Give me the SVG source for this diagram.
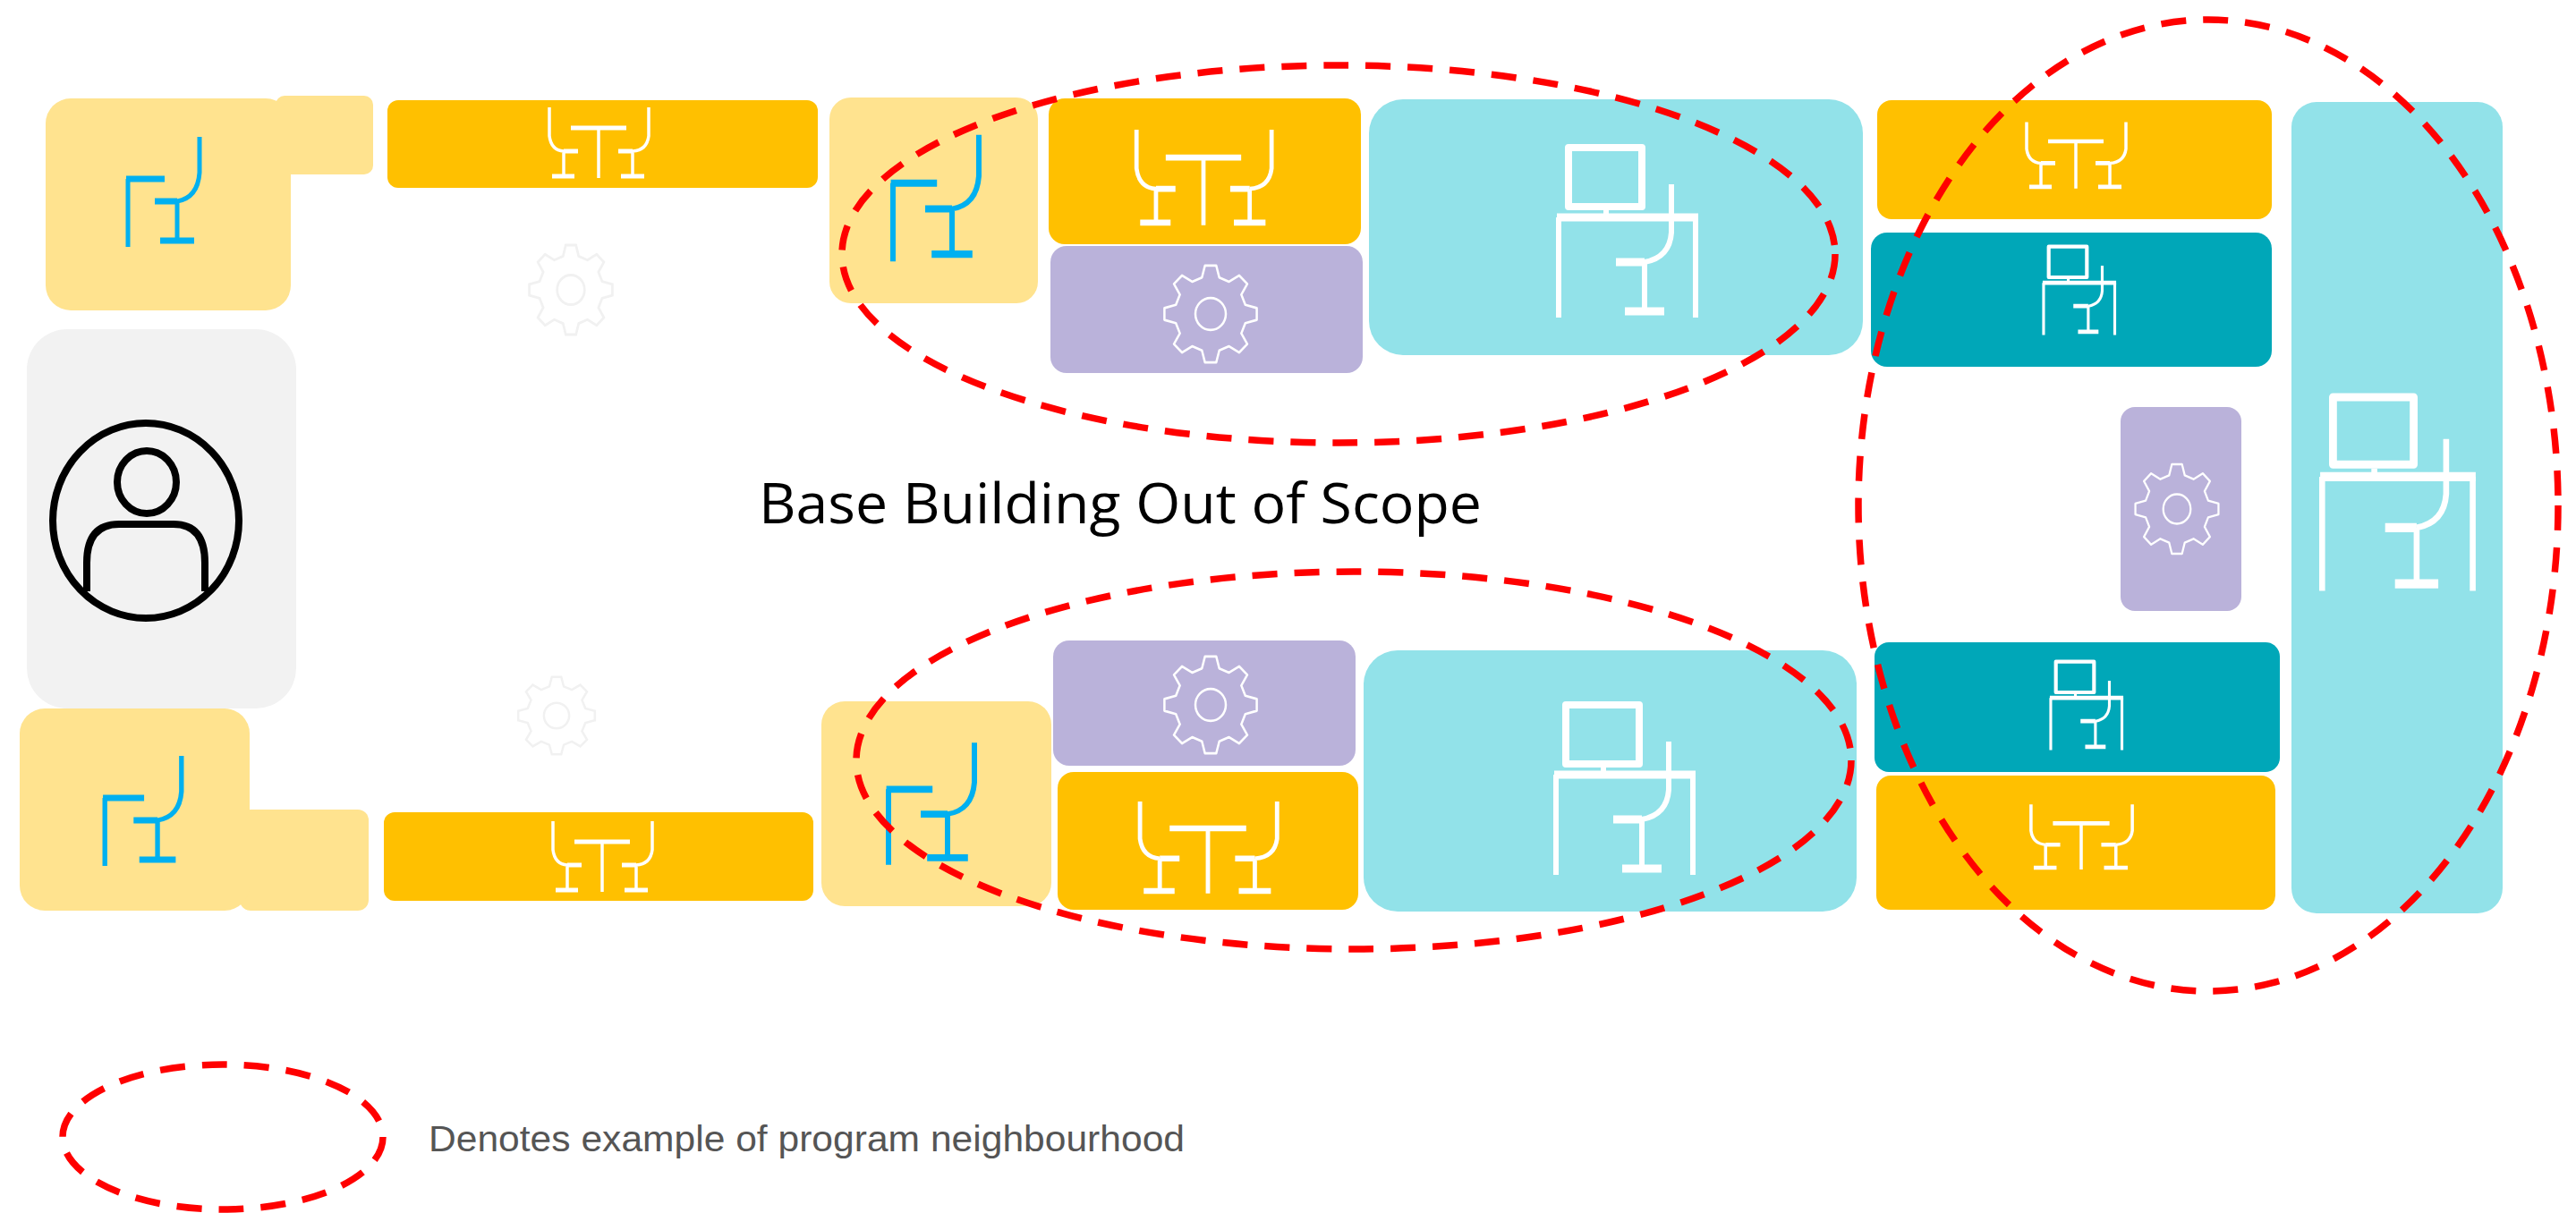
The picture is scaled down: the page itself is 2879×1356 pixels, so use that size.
<svg xmlns="http://www.w3.org/2000/svg" width="2879" height="1356" viewBox="0 0 2879 1356">
<style>
.y{fill:#FFE38F}.o{fill:#FFC000}.c{fill:#92E2E9}.t{fill:#00A7B8}.p{fill:#BAB2DA}.g{fill:#F2F2F2}
.w{fill:none;stroke:#fff;stroke-linejoin:round}
.b{fill:none;stroke:#00B0F0}
.k{fill:none;stroke:#000;stroke-width:8}
.r{fill:none;stroke:#F00;stroke-width:7.5;stroke-dasharray:28 19}
.title{font-family:"Open Sans","Noto Sans",sans-serif;font-size:63px;fill:#000}
.note{font-family:"Liberation Sans",Arial,sans-serif;font-size:41px;fill:#555}
</style>
<defs>
<g id="dine" class="w">
<path stroke-width="3.5" d="M-55 -40V-8Q-53 8-39 9M-39 9V37M0 -17V39M56 -40V-8Q54 8 38 9M38 9V37"/>
<path stroke-width="5" d="M-39 9H-23M-52 37H-27M-31 -17H31M38 9H22M25 37H51"/>
</g>
<g id="seat" class="b">
<path stroke-width="5" d="M-40 61V-15M40 -62V-22Q38 6 15 10M15 10V54"/>
<path stroke-width="7" d="M-42 -15H1M15 10H-10M-4 54H34"/>
</g>
<g id="desk" class="w">
<path stroke-width="6" d="M-77 -15V97M76 -15V97M49 -52V2Q47 30 19 35M19 35V90M-24 -23V-15"/>
<path stroke-width="9" d="M-79 -15H79M19 35H-13M-3 90H41"/>
<rect x="-66" y="-93" width="82" height="66" stroke-width="8"/>
</g>
<g id="gear">
<path d="M-9.7 -38.8L-6.3 -51.6L6.3 -51.6L9.7 -38.8L20.6 -34.3L32 -41L41 -32L34.3 -20.6L38.8 -9.7L51.6 -6.3L51.6 6.3L38.8 9.7L34.3 20.6L41 32L32 41L20.6 34.3L9.7 38.8L6.3 51.6L-6.3 51.6L-9.7 38.8L-20.6 34.3L-32 41L-41 32L-34.3 20.6L-38.8 9.7L-51.6 6.3L-51.6 -6.3L-38.8 -9.7L-34.3 -20.6L-41 -32L-32 -41L-20.6 -34.3Z"/>
<circle r="17"/>
</g>
</defs>
<rect width="2879" height="1356" fill="#fff"/>

<g id="reception"><rect class="g" x="30" y="368" width="301" height="424" rx="45"/>
<g class="k"><ellipse cx="163" cy="582" rx="104" ry="109"/><ellipse cx="164" cy="539" rx="33" ry="35"/><path d="M97 661V629Q97 586 133 586H194Q229 586 229 629V661"/></g></g>

<g id="seat-top-left"><rect class="y" x="308" y="107" width="109" height="88" rx="10"/><rect class="y" x="51" y="110" width="274" height="237" rx="28"/><use href="#seat" transform="translate(183 215)"/></g>
<g id="dine-top"><rect class="o" x="433" y="112" width="481" height="98" rx="12"/><use href="#dine" transform="translate(669 160)"/></g>
<g id="ghost-gear-top" fill="none" stroke="#F1F1F1" stroke-width="3"><use href="#gear" transform="translate(638 324) scale(.9 .97)"/></g>
<g id="seat-top-mid"><rect class="y" x="927" y="109" width="233" height="230" rx="24"/><use href="#seat" transform="translate(1046 222) scale(1.2 1.15)"/></g>
<g id="dine-top-mid"><rect class="o" x="1172" y="110" width="349" height="163" rx="18"/><use href="#dine" transform="translate(1345 199) scale(1.36 1.35)"/></g>
<g id="service-top"><rect class="p" x="1174" y="275" width="349" height="142" rx="18"/><use href="#gear" class="w" stroke-width="2.5" transform="translate(1353 351) scale(1 1.05)"/></g>
<g id="desk-top"><rect class="c" x="1530" y="111" width="552" height="286" rx="38"/><use href="#desk" transform="translate(1819 258)"/></g>
<g id="dine-top-right"><rect class="o" x="2098" y="112" width="441" height="133" rx="16"/><use href="#dine" transform="translate(2320 174) scale(1 .94)"/></g>
<g id="desk-teal-top"><rect class="t" x="2091" y="260" width="448" height="150" rx="18"/><use href="#desk" transform="translate(2324 324) scale(.52)"/></g>
<g id="service-right"><rect class="p" x="2370" y="455" width="135" height="228" rx="16"/><use href="#gear" class="w" stroke-width="2.5" transform="translate(2433 569) scale(.9 .97)"/></g>
<g id="desk-tall"><rect class="c" x="2561" y="114" width="236" height="907" rx="28"/><use href="#desk" transform="translate(2680 550) scale(1.1 1.14)"/></g>

<g id="seat-bottom-left"><rect class="y" x="268" y="905" width="144" height="113" rx="12"/><rect class="y" x="22" y="792" width="257" height="226" rx="28"/><use href="#seat" transform="translate(160 907) scale(1.07 1)"/></g>
<g id="dine-bottom"><rect class="o" x="429" y="908" width="480" height="99" rx="12"/><use href="#dine" transform="translate(673 958)"/></g>
<g id="ghost-gear-bottom" fill="none" stroke="#F1F1F1" stroke-width="3"><use href="#gear" transform="translate(622 800) scale(.83 .84)"/></g>
<g id="seat-bottom-mid"><rect class="y" x="918" y="784" width="257" height="229" rx="26"/><use href="#seat" transform="translate(1041 899) scale(1.2 1.11)"/></g>
<g id="service-bottom"><rect class="p" x="1177" y="716" width="338" height="140" rx="18"/><use href="#gear" class="w" stroke-width="2.5" transform="translate(1353 788) scale(1 1.05)"/></g>
<g id="dine-bottom-mid"><rect class="o" x="1182" y="863" width="336" height="154" rx="18"/><use href="#dine" transform="translate(1350 948) scale(1.38 1.3)"/></g>
<g id="desk-bottom"><rect class="c" x="1524" y="727" width="551" height="292" rx="38"/><use href="#desk" transform="translate(1816 881)"/></g>
<g id="desk-teal-bottom"><rect class="t" x="2095" y="718" width="453" height="145" rx="16"/><use href="#desk" transform="translate(2332 788) scale(.52)"/></g>
<g id="dine-bottom-right"><rect class="o" x="2097" y="867" width="446" height="150" rx="16"/><use href="#dine" transform="translate(2326 936) scale(1.02 .92)"/></g>

<text class="title" x="848" y="585" textLength="808" lengthAdjust="spacingAndGlyphs">Base Building Out of Scope</text>

<g id="neighbourhoods">
<ellipse class="r" cx="1496" cy="284" rx="555" ry="211"/>
<ellipse class="r" cx="1513" cy="850" rx="556" ry="211"/>
<ellipse class="r" cx="2468" cy="565" rx="391" ry="543"/>
</g>
<g id="legend">
<ellipse class="r" cx="249" cy="1271" rx="179" ry="81"/>
<text class="note" x="479" y="1287" textLength="845" lengthAdjust="spacingAndGlyphs">Denotes example of program neighbourhood</text>
</g>
</svg>
